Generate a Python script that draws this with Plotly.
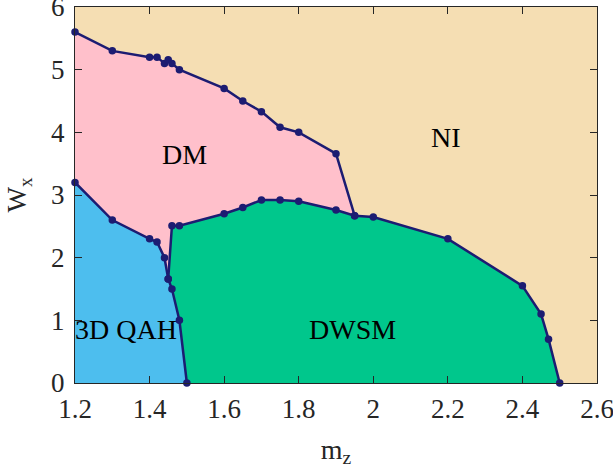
import plotly.graph_objects as go

# Boundary NI / DM (upper)
top_x = [1.2, 1.3, 1.4, 1.42, 1.44, 1.45, 1.46, 1.48, 1.6, 1.65, 1.7, 1.75, 1.8, 1.9, 1.95]
top_y = [5.6, 5.3, 5.2, 5.2, 5.1, 5.16, 5.1, 5.0, 4.7, 4.5, 4.33, 4.08, 4.0, 3.66, 2.67]

# Boundary 3D QAH / (DM, DWSM)
qah_x = [1.2, 1.3, 1.4, 1.42, 1.44, 1.45, 1.46, 1.48, 1.5]
qah_y = [3.2, 2.6, 2.3, 2.25, 2.0, 1.66, 1.5, 1.0, 0.0]

# Boundary of DWSM (from junction with QAH line, over top, down to axis)
dw_x = [1.45, 1.46, 1.48, 1.6, 1.65, 1.7, 1.75, 1.8, 1.9, 1.95, 2.0, 2.2, 2.4, 2.45, 2.47, 2.5]
dw_y = [1.66, 2.51, 2.51, 2.7, 2.8, 2.92, 2.92, 2.9, 2.76, 2.67, 2.65, 2.3, 1.55, 1.1, 0.7, 0.0]

x_ticks = [1.2, 1.4, 1.6, 1.8, 2.0, 2.2, 2.4, 2.6]
x_tick_text = ["1.2", "1.4", "1.6", "1.8", "2", "2.2", "2.4", "2.6"]
y_ticks = [0, 1, 2, 3, 4, 5, 6]

phase_names = ["DM", "NI", "3D QAH", "DWSM"]
phase_x = [1.494, 2.195, 1.337, 1.943]
phase_y = [3.68, 3.955, 0.89, 0.89]

line_col = "#1c1c72"
font_fam = "Liberation Serif"

fig = go.Figure()

# DM polygon
i_j = dw_x.index(1.95)
dm_x = top_x + dw_x[i_j::-1][1:] + qah_x[:6][::-1][1:]
dm_y = top_y + dw_y[i_j::-1][1:] + qah_y[:6][::-1][1:]
fig.add_trace(go.Scatter(x=dm_x, y=dm_y, fill="toself", fillcolor="#FFC0CB",
                         mode="none", hoverinfo="skip", showlegend=False))

# QAH polygon
fig.add_trace(go.Scatter(x=[1.2] + qah_x, y=[0.0] + qah_y, fill="toself",
                         fillcolor="#4DBEEE", mode="none", hoverinfo="skip", showlegend=False))

# DWSM polygon
dws_x = qah_x[-1:5:-1] + dw_x
dws_y = qah_y[-1:5:-1] + dw_y
fig.add_trace(go.Scatter(x=dws_x, y=dws_y, fill="toself", fillcolor="#00C78C",
                         mode="none", hoverinfo="skip", showlegend=False))

for xs, ys in [(top_x, top_y), (qah_x, qah_y), (dw_x, dw_y)]:
    fig.add_trace(go.Scatter(x=xs, y=ys, mode="lines+markers",
                             line=dict(color=line_col, width=2.5),
                             marker=dict(color=line_col, size=7.5),
                             cliponaxis=False, showlegend=False))

for name, px, py in zip(phase_names, phase_x, phase_y):
    fig.add_annotation(x=px, y=py, text=name, showarrow=False, yshift=-2,
                       font=dict(family=font_fam, size=28, color="black"))

axis_common = dict(showgrid=False, zeroline=False, showline=True, linecolor="#262626",
                   linewidth=1, mirror="ticks", ticks="inside", ticklen=7, automargin=False,
                   ticklabeloverflow="allow",
                   tickcolor="#262626", tickfont=dict(family=font_fam, size=27, color="#262626"))

fig.update_xaxes(range=[1.2, 2.6], tickvals=x_ticks, ticktext=x_tick_text,
                 ticklabelstandoff=2,
                 title=dict(text="m<sub>z</sub>", font=dict(family=font_fam, size=28, color="#262626"),
                            standoff=15),
                 **axis_common)
fig.update_yaxes(range=[0, 6], tickvals=y_ticks, ticklabelstandoff=4,
                 title=dict(text="W<sub>x</sub>", font=dict(family=font_fam, size=27, color="#262626"),
                            standoff=16),
                 **axis_common)

fig.update_layout(width=613, height=474, plot_bgcolor="#F5DEB3", paper_bgcolor="white",
                  margin=dict(l=75, r=16, t=7, b=91), showlegend=False)

fig.write_html("out.html", config={"displayModeBar": False},
               post_script="document.body.style.margin='0';document.body.style.padding='0';")
